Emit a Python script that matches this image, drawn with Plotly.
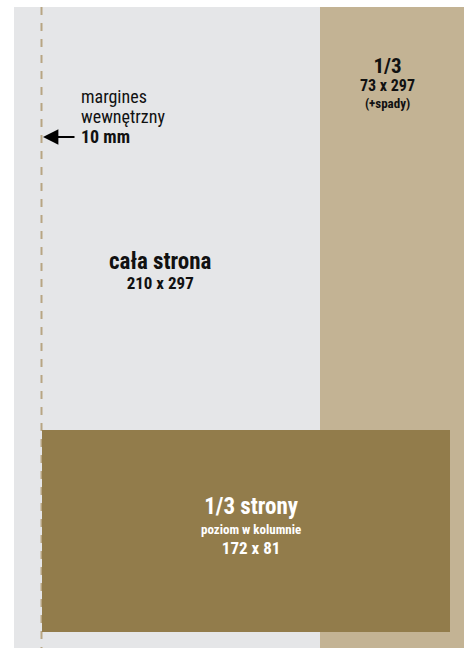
import plotly.graph_objects as go

# ---- data (labels of the ad formats) ----
format_titles = ["cała strona", "1/3", "1/3 strony"]
format_sizes = ["210 x 297", "73 x 297", "172 x 81"]
format_notes = ["", "(+spady)", "poziom w kolumnie"]
margin_label = ["margines", "wewnętrzny"]
margin_value = "10 mm"

# ---- layout geometry (canvas units = pixels) ----
W, H = 464, 648
FONT = "Roboto Condensed, Liberation Sans Narrow, DejaVu Sans Condensed, sans-serif"
GRAY = "#e5e6e8"
TAN = "#c3b394"
DARK = "#927c4b"
DASH = "#b8a583"

fig = go.Figure()
fig.add_trace(go.Scatter(x=[0, W], y=[0, H], mode="markers",
                         marker=dict(opacity=0), hoverinfo="skip", showlegend=False))

shapes = [
    dict(type="rect", x0=14, x1=W, y0=7, y1=H, fillcolor=GRAY, line=dict(width=0), layer="below"),
    dict(type="rect", x0=320, x1=W, y0=7, y1=H, fillcolor=TAN, line=dict(width=0), layer="below"),
    dict(type="line", x0=41.5, x1=41.5, y0=7, y1=H, line=dict(color=DASH, width=2, dash="8px,8px"), layer="below"),
    dict(type="rect", x0=42, x1=450, y0=430, y1=632, fillcolor=DARK, line=dict(width=0), layer="below"),
]


def span(s, size, bold=True):
    inner = "<b>%s</b>" % s if bold else s
    return '<span style="font-size:%dpx">%s</span>' % (size, inner)


def block(x, y, lines, base, color="#111111", xanchor="center", align="center"):
    return dict(x=x, y=y, xref="x", yref="y", text="<br>".join(lines),
                showarrow=False, xanchor=xanchor, yanchor="middle", align=align,
                font=dict(family=FONT, size=base, color=color))


ann = [
    block(79, 116, [span(margin_label[0], 18, False), span(margin_label[1], 18, False),
                    span(margin_value, 18)], 15.4, xanchor="left", align="left"),
    dict(x=43, y=137, ax=76, ay=137, xref="x", yref="y", axref="x", ayref="y",
         showarrow=True, arrowhead=2, arrowsize=1.4, arrowwidth=2.2, arrowcolor="#000000",
         standoff=0, startstandoff=0, text=""),
    block(160, 270, [span(format_titles[0], 23), span(format_sizes[0], 17)], 15.6),
    block(387, 82, [span(format_titles[1], 21), span(format_sizes[1], 16),
                    span(format_notes[1], 13)], 13.5),
    block(251, 525, [span(format_titles[2], 23), span(format_notes[2], 13),
                     span(format_sizes[2], 17)], 15.2, color="#ffffff"),
]

fig.update_layout(
    width=W, height=H, margin=dict(l=0, r=0, t=0, b=0),
    paper_bgcolor="#ffffff", plot_bgcolor="#ffffff",
    xaxis=dict(range=[0, W], visible=False, fixedrange=True),
    yaxis=dict(range=[H, 0], visible=False, fixedrange=True),
    shapes=shapes, annotations=ann, showlegend=False,
)
fig.write_html("out.html", config={"displayModeBar": False},
               post_script="document.body.style.margin='0';")
